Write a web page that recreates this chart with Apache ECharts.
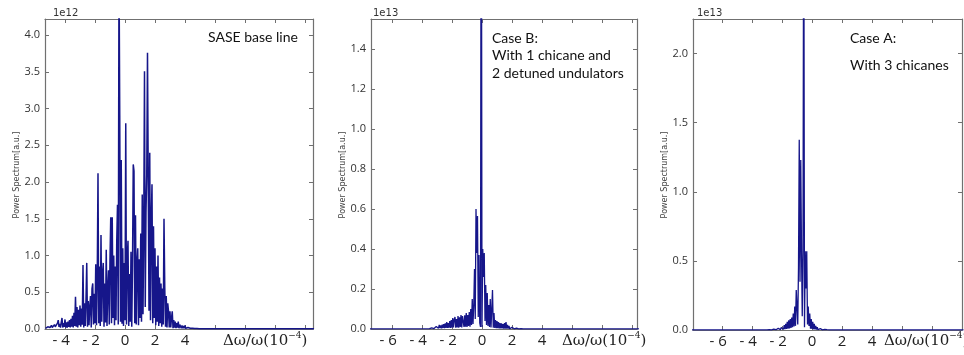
<!DOCTYPE html>
<html><head><meta charset="utf-8">
<script src="https://cdn.jsdelivr.net/npm/echarts@6/dist/echarts.min.js"></script>
<style>html,body{margin:0;padding:0;background:#fff}#c{width:964px;height:355px}</style>
</head><body><div id="c"></div>
<script>
// sampling step of the hand-read spectra (in 1e-4 units of Δω/ω)
const STEP = 0.05;

// Panel 1: SASE base line (×1e12)
const saseStart = -5.30;
const sasePower = [
  0.01,0.02,0.01,0.03,0.02,0.04,0.02,0.03,0.05,0.02,0.04,0.03,0.06,0.03,0.05,
  0.04,0.08,0.12,0.03,0.07,0.02,0.09,0.15,0.02,0.08,0.03,0.13,0.02,0.09,0.02,0.10,0.03,0.12,0.02,0.14,
  0.03,0.18,0.02,0.22,0.04,0.44,0.03,0.30,0.02,0.26,0.05,0.32,
  0.03,0.28,0.06,0.87,0.02,0.35,0.04,0.40,0.90,0.03,0.38,0.05,0.30,0.45,0.02,0.55,0.62,0.06,0.48,0.08,
  0.88,0.05,0.70,2.12,0.08,0.85,0.04,1.28,0.10,0.75,0.90,0.03,0.62,0.09,1.08,0.04,0.55,0.80,0.06,0.95,
  1.52,0.08,1.52,0.15,1.00,0.05,0.85,0.12,1.20,1.69,0.06,5.00,2.90,0.10,2.30,0.07,1.10,0.04,0.90,0.12,
  2.80,0.06,0.95,1.20,0.04,0.75,0.10,1.05,0.03,0.85,2.24,2.15,0.08,1.55,0.06,0.90,1.10,0.05,0.95,0.15,
  1.30,0.10,1.83,0.20,1.40,3.51,0.30,1.60,2.10,3.76,3.74,0.25,2.40,0.12,1.50,1.97,0.08,1.40,0.15,1.10,
  0.05,0.85,0.10,1.00,0.04,0.70,0.08,0.62,0.03,0.55,0.06,1.50,0.58,0.03,0.45,0.02,0.35,0.24,0.02,0.24,
  0.02,0.15,0.24,0.01,0.12,0.02,0.10,0.01,0.08,0.02,0.10,0.01,0.06,0.08,0.01,0.05,0.01,0.04,0.01,0.05,
  0.01,0.03,0.01,0.02,0.01,0.02,0.01,0.015,0.01,0.01,0.008,0.01,0.006,0.008,0.005,0.006,0.005,0.005,0.004,0.004
];
const saseEdges = [[12.6, 0.004]];

// Panel 2: Case B (×1e13)
const caseBStart = -3.50;
const caseBPower = [
  0.002,0.004,0.001,0.006,0.002,0.008,0.002,0.010,0.003,0.012,
  0.003,0.015,0.004,0.020,0.004,0.018,0.003,0.022,0.005,0.025,
  0.004,0.028,0.006,0.035,0.005,0.030,0.006,0.040,0.005,0.045,
  0.006,0.055,0.008,0.048,0.060,0.006,0.050,0.008,0.065,0.007,
  0.058,0.010,0.070,0.008,0.065,0.075,0.010,0.068,0.012,0.080,
  0.010,0.070,0.015,0.085,0.012,0.100,0.020,0.150,0.025,0.120,
  0.300,0.050,0.600,0.380,0.565,0.060,0.370,0.030,0.010,3.000,
  0.010,0.400,0.260,0.380,0.040,0.220,0.020,0.180,0.015,0.120,
  0.010,0.150,0.008,0.100,0.195,0.006,0.080,0.005,0.045,0.004,
  0.040,0.004,0.035,0.003,0.030,0.003,0.028,0.003,0.025,0.002,
  0.030,0.002,0.035,0.002,0.020,0.002,0.015,0.001,0.010,0.001,
  0.008,0.001,0.006,0.001,0.005,0.001,0.004,0.001,0.003,0.001,
  0.002,0.001,0.002,0.001,0.001,0.001,0.001,0.001,0.001,0.001,0.001
];
const caseBEdges = [[-7.5, 0.0005], [10.5, 0.0005]];

// Panel 3: Case A (×1e13)
const caseAStart = -3.00;
const caseAPower = [
  0.001,0.002,0.001,0.003,0.001,0.004,0.001,0.005,0.001,0.006,
  0.002,0.008,0.002,0.010,0.002,0.012,0.003,0.015,0.003,0.018,
  0.004,0.025,0.005,0.035,0.006,0.045,0.008,0.060,0.010,0.070,
  0.012,0.080,0.015,0.090,0.020,0.120,0.025,0.170,0.030,0.290,
  0.290,0.040,0.450,1.377,0.350,1.230,0.570,0.100,0.570,3.500,
  0.020,0.570,0.300,0.570,0.040,0.170,0.030,0.120,0.010,0.080,
  0.008,0.060,0.005,0.045,0.004,0.030,0.003,0.020,0.002,0.015,
  0.002,0.010,0.001,0.008,0.001,0.005,0.001,0.004,0.001,0.003,
  0.002,0.001,0.002,0.001,0.001,0.001,0.001,0.001,0.001,0.001,0.001
];
const caseAEdges = [[-8.0, 0.0005], [10.1, 0.0005]];

// tick labels
const saseYTicks = [0, 0.5, 1.0, 1.5, 2.0, 2.5, 3.0, 3.5, 4.0];
const caseBYTicks = [0, 0.2, 0.4, 0.6, 0.8, 1.0, 1.2, 1.4];
const caseAYTicks = [0, 0.5, 1.0, 1.5, 2.0];
const saseXLabels = [-4, -2, 0, 2, 4];
const caseBXLabels = [-6, -4, -2, 0, 2, 4];
const caseAXLabels = [-6, -4, -2, 0, 2, 4];
const saseXMarks = [-4, -2, 0, 2, 4, 6, 8, 10, 12];
const caseBXMarks = [-6, -4, -2, 0, 2, 4, 6, 8, 10];
const caseAXMarks = [-6, -4, -2, 0, 2, 4, 6, 8];

function toPairs(start, ys, edges) {
  const pts = ys.map((y, i) => [+(start + i * STEP).toFixed(2), y]);
  edges.forEach(e => { if (e[0] < start) pts.unshift(e); else pts.push(e); });
  return pts;
}

const LINE = '#16168a';
const FRAME = '#707070';
const panels = [
  {grid: {left: 45, top: 19, width: 268, height: 310}, xmin: -5.333, xmax: 12.533, ymax: 4.22, lw: 1.5,
   yt: saseYTicks, xl: saseXLabels, xm: saseXMarks, data: toPairs(saseStart, sasePower, saseEdges)},
  {grid: {left: 371, top: 19, width: 266, height: 310}, xmin: -7.4, xmax: 10.333, ymax: 1.55, lw: 1.3,
   yt: caseBYTicks, xl: caseBXLabels, xm: caseBXMarks, data: toPairs(caseBStart, caseBPower, caseBEdges)},
  {grid: {left: 693, top: 19, width: 269, height: 311}, xmin: -7.933, xmax: 10.0, ymax: 2.25, lw: 1.3,
   yt: caseAYTicks, xl: caseAXLabels, xm: caseAXMarks, data: toPairs(caseAStart, caseAPower, caseAEdges)}
];

const tick = {inside: true, length: 4, lineStyle: {color: FRAME, width: 1}};
const axLine = {show: true, onZero: false, lineStyle: {color: FRAME, width: 1.2}};
const grids = [], xAxes = [], yAxes = [], series = [];
panels.forEach((p, i) => {
  grids.push(p.grid);
  xAxes.push({type: 'value', gridIndex: i, position: 'bottom', min: p.xmin, max: p.xmax,
    axisLine: axLine, splitLine: {show: false},
    axisTick: Object.assign({customValues: p.xm}, tick),
    axisLabel: {customValues: p.xl, margin: 4, hideOverlap: false, showMinLabel: true, showMaxLabel: true,
      fontSize: 15, fontFamily: 'Open Sans', color: '#222',
      formatter: v => (v < 0 ? '- ' + Math.abs(v) + '  ' : String(v))}});
  xAxes.push({type: 'value', gridIndex: i, position: 'top', min: p.xmin, max: p.xmax,
    axisLine: axLine, splitLine: {show: false},
    axisTick: Object.assign({customValues: p.xm}, tick), axisLabel: {show: false}});
  yAxes.push({type: 'value', gridIndex: i, position: 'left', min: 0, max: p.ymax,
    axisLine: axLine, splitLine: {show: false},
    axisTick: Object.assign({customValues: p.yt}, tick),
    axisLabel: {customValues: p.yt, margin: 5, fontSize: 11, fontFamily: 'Open Sans', color: '#333',
      hideOverlap: false, formatter: v => v.toFixed(1)}});
  yAxes.push({type: 'value', gridIndex: i, position: 'right', min: 0, max: p.ymax,
    axisLine: axLine, splitLine: {show: false},
    axisTick: Object.assign({customValues: p.yt}, tick), axisLabel: {show: false}});
  series.push({type: 'line', xAxisIndex: 2 * i, yAxisIndex: 2 * i, data: p.data,
    showSymbol: false, symbol: 'none', clip: true, sampling: null,
    lineStyle: {color: LINE, width: p.lw}, itemStyle: {color: LINE}});
});

const txt = (x, y, text, size, extra) => ({type: 'text', x, y, silent: true,
  style: Object.assign({text, fontSize: size, fontFamily: 'Lato', fill: '#111',
    textAlign: 'left', textVerticalAlign: 'middle'}, extra || {})});
const expo = (x, t) => txt(x, 13, t, 10, {fontFamily: 'DejaVu Sans', fill: '#333'});
const yname = x => ({type: 'text', x, y: 175, rotation: Math.PI / 2, silent: true,
  style: {text: 'Power Spectrum[a.u.]', fontSize: 8, fontFamily: 'DejaVu Sans', fill: '#444',
    textAlign: 'center', textVerticalAlign: 'middle'}});
const xname = x => ({type: 'text', x, y: 341, silent: true,
  style: {text: '{a|Δω/ω(10}{s|−4}{a|)}', textAlign: 'left', textVerticalAlign: 'middle',
    rich: {a: {fontSize: 15, fontFamily: 'DejaVu Serif', fill: '#222', lineHeight: 20},
           s: {fontSize: 9, fontFamily: 'DejaVu Serif', fill: '#222', verticalAlign: 'top', lineHeight: 20, padding: [0, 0, 8, 0]}}}});

const graphics = [
  expo(53, '1e12'), expo(373, '1e13'), expo(697, '1e13'),
  yname(17), yname(343), yname(665),
  xname(223), xname(562), xname(884),
  txt(208, 37, 'SASE base line', 14),
  txt(492, 38, 'Case B:', 14), txt(492, 55, 'With 1 chicane and', 14), txt(492, 73, '2 detuned undulators', 14),
  txt(850, 38, 'Case A:', 14), txt(850, 65, 'With 3 chicanes', 14)
];

const chart = echarts.init(document.getElementById('c'), null, {renderer: 'canvas'});
chart.setOption({animation: false, grid: grids, xAxis: xAxes, yAxis: yAxes, series, graphic: graphics});
</script></body></html>
